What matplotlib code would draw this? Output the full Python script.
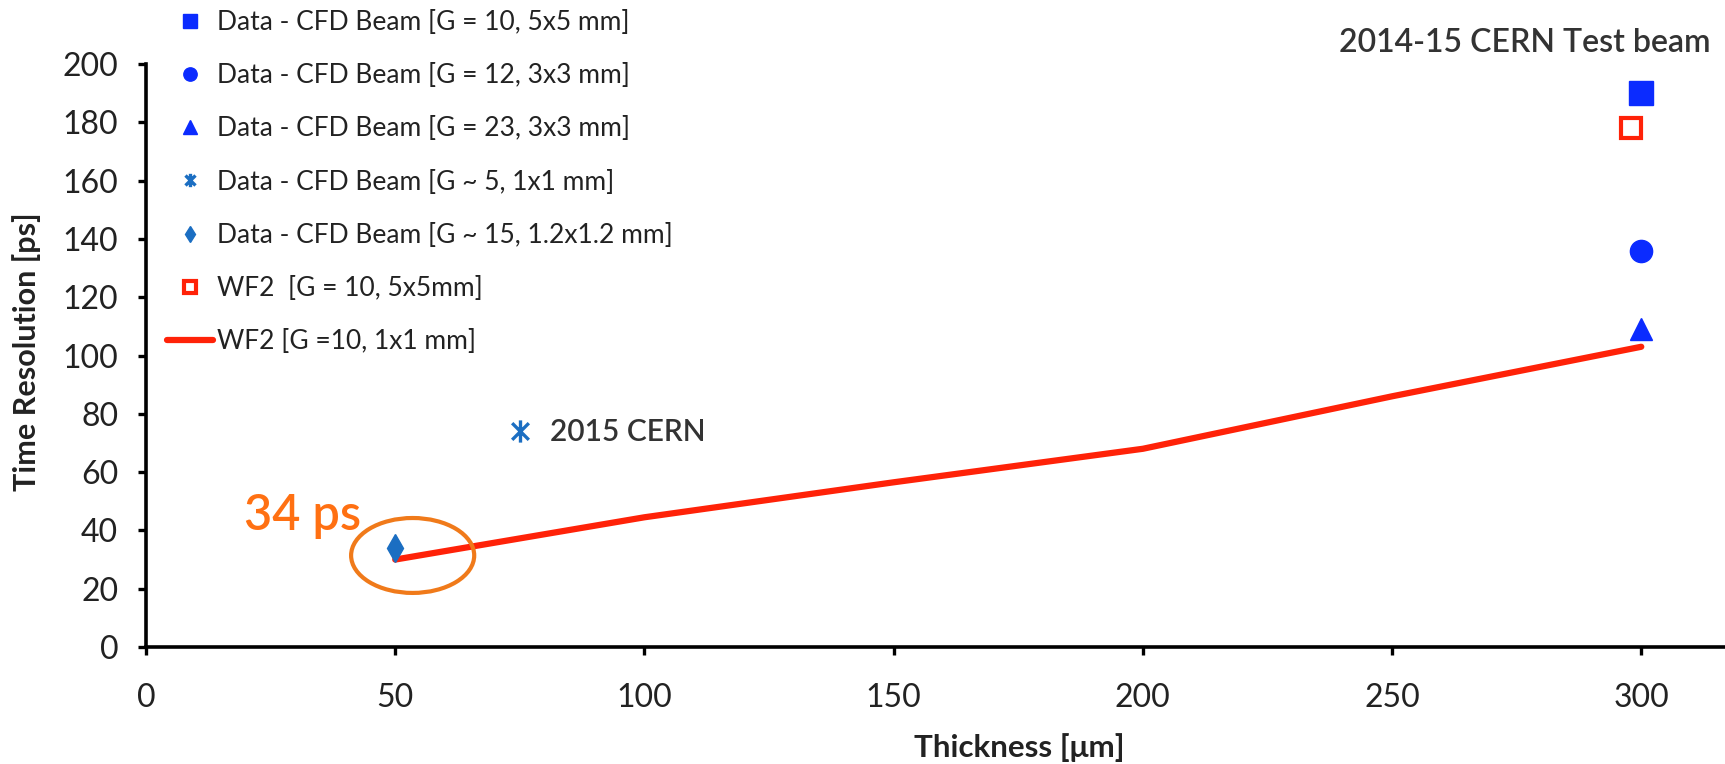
import matplotlib
matplotlib.use("Agg")
import matplotlib.pyplot as plt
from matplotlib.path import Path
from matplotlib.patches import Ellipse

plt.rcParams['font.family'] = ['Lato', 'DejaVu Sans']

# Measured time resolution vs. sensor thickness
sq_x, sq_y = [300], [190]          # Data - CFD Beam [G = 10, 5x5 mm]
circ_x, circ_y = [300], [136]      # Data - CFD Beam [G = 12, 3x3 mm]
tri_x, tri_y = [300], [109]        # Data - CFD Beam [G = 23, 3x3 mm]
star_x, star_y = [75], [74]        # Data - CFD Beam [G ~ 5, 1x1 mm]
dia_x, dia_y = [50], [34]          # Data - CFD Beam [G ~ 15, 1.2x1.2 mm]
wf2_sq_x, wf2_sq_y = [298], [178]  # WF2 [G = 10, 5x5mm]
# WF2 simulation [G = 10, 1x1 mm]
wf2_x = [50, 100, 150, 200, 250, 300]
wf2_y = [30, 44.5, 56.5, 68, 86, 103]

legend_labels = [
    "Data - CFD Beam [G = 10, 5x5 mm]",
    "Data - CFD Beam [G = 12, 3x3 mm]",
    "Data - CFD Beam [G = 23, 3x3 mm]",
    "Data - CFD Beam [G ~ 5, 1x1 mm]",
    "Data - CFD Beam [G ~ 15, 1.2x1.2 mm]",
    "WF2  [G = 10, 5x5mm]",
    "WF2 [G =10, 1x1 mm]",
]
x_ticks = [0, 50, 100, 150, 200, 250, 300]
y_ticks = [0, 20, 40, 60, 80, 100, 120, 140, 160, 180, 200]

BLUE = "#0B2BFF"
STEEL = "#1B6EC2"
RED = "#FF2208"
ORANGE = "#F07A1A"
TXT = "#222222"

# six-armed star marker: vertical bar plus an X
star_path = Path(
    [(0, -1), (0, 1), (-0.75, -0.75), (0.75, 0.75), (-0.75, 0.75), (0.75, -0.75)],
    [Path.MOVETO, Path.LINETO, Path.MOVETO, Path.LINETO, Path.MOVETO, Path.LINETO],
)

fig = plt.figure(figsize=(17.25, 7.64), dpi=100)
ax = fig.add_axes([146 / 1725, 117 / 764, 1579 / 1725, 583 / 764])
ax.set_xlim(0, 316.8)
ax.set_ylim(0, 200)

h_line, = ax.plot(wf2_x, wf2_y, color=RED, lw=4.5, solid_capstyle='round', zorder=2)
h_sq, = ax.plot(sq_x, sq_y, 's', ms=17, color=BLUE, mec=BLUE, ls='none', zorder=3)
h_circ, = ax.plot(circ_x, circ_y, 'o', ms=16, color=BLUE, mec=BLUE, ls='none', zorder=3)
h_tri, = ax.plot(tri_x, tri_y, '^', ms=16, color=BLUE, mec=BLUE, ls='none', zorder=3)
h_star, = ax.plot(star_x, star_y, marker=star_path, ms=16, mew=2.4, mec=STEEL,
                  mfc='none', ls='none', zorder=3)
h_dia, = ax.plot(dia_x, dia_y, 'd', ms=14, color=STEEL, mec=STEEL, ls='none', zorder=3)
h_wsq, = ax.plot(wf2_sq_x, wf2_sq_y, 's', ms=15, mfc='white', mec=RED, mew=3,
                 ls='none', zorder=3)

for side in ('top', 'right'):
    ax.spines[side].set_visible(False)
for side in ('left', 'bottom'):
    ax.spines[side].set_linewidth(2.6)
    ax.spines[side].set_color('black')

ax.set_xticks(x_ticks)
ax.set_yticks(y_ticks)
ax.tick_params(axis='both', direction='out', length=6, width=2.4, colors='black',
               labelcolor=TXT, labelsize=23)
ax.tick_params(axis='y', pad=14)
ax.tick_params(axis='x', pad=20)

ax.set_ylabel("Time Resolution [ps]", fontsize=22, fontweight='bold', color=TXT, va='center')
ax.yaxis.set_label_coords(-0.0754, 0.506)
ax.set_xlabel("Thickness [μm]", fontsize=22.5, fontweight='bold', color=TXT, va='center')
ax.xaxis.set_label_coords(0.553, -0.173)

ax.text(276.6, 204.2, "2014-15 CERN Test beam", fontsize=23, fontweight='semibold',
        color="#333333", ha='center', va='baseline', clip_on=False)
ax.text(81, 70.7, "2015 CERN", fontsize=21.5, fontweight='semibold', color="#333333",
        ha='left', va='baseline')
ax.text(19.7, 40.1, "34 ps", fontsize=35, fontweight='semibold', color="#FF7012",
        ha='left', va='baseline')
ax.add_patch(Ellipse((53.5, 31.4), 24.7, 25.7, fill=False, ec=ORANGE, lw=3, zorder=4))

fig.legend([h_sq, h_circ, h_tri, h_star, h_dia, h_wsq, h_line], legend_labels,
           loc='upper left', bbox_to_anchor=(167 / 1725, 1 - 10 / 764),
           frameon=False, fontsize=19, labelspacing=1.07, handlelength=1.75,
           handletextpad=0.15, borderpad=0, borderaxespad=0, markerscale=0.6,
           labelcolor=TXT)

fig.savefig("out.png", dpi=100)
